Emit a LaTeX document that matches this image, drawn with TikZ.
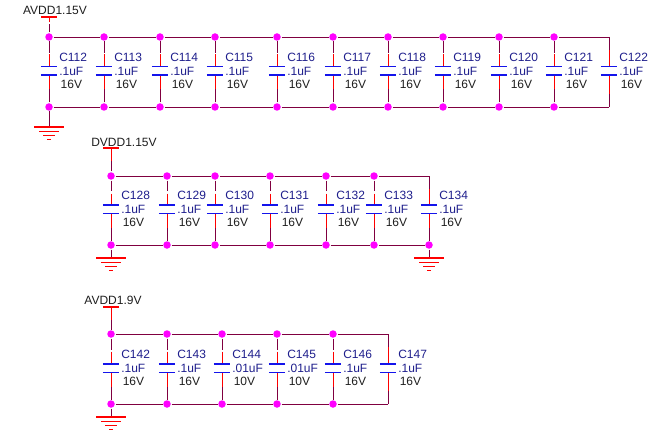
\documentclass[tikz,border=0pt]{standalone}
\usepackage{fontspec}
\setmainfont{Liberation Sans}
\usepackage{tikz}
\usetikzlibrary{calc}
\usetikzlibrary{backgrounds}
\definecolor{wine}{RGB}{128,0,64}
\definecolor{dotcol}{RGB}{255,0,255}
\definecolor{redcol}{RGB}{255,0,0}
\definecolor{platecol}{RGB}{20,20,235}
\definecolor{capcol}{RGB}{30,30,140}
\definecolor{netcol}{RGB}{30,30,30}

\begin{document}
\begin{tikzpicture}
	[x=1pt,y=-1pt,line width=1.5pt,
	wire/.style = {
		draw=wine
	},
	capwire/.style = {
		postaction={draw=wine, shorten >=14pt},
		postaction={draw=redcol, shorten <=13pt}
	},
	railwire/.style = {
		postaction={draw=wine, shorten >=6pt},
		postaction={draw=redcol, shorten <=10pt}
	},
	dot/.style = {
		fill=dotcol, circle, inner sep=0pt, minimum size=7.5pt
	},
	capbox/.style = {
		inner sep=0pt, minimum width=15pt, minimum height=7pt,
		append after command = {
			(\tikzlastnode.north west) edge[draw=platecol] (\tikzlastnode.north east)
			(\tikzlastnode.south west) edge[draw=platecol] (\tikzlastnode.south east)
		}
	},
	capval/.style = {
		anchor=west, inner sep=0pt, align=left, text=capcol,
		font=\fontsize{12}{13.5}\selectfont
	},
	netname/.style = {
		inner sep=0pt, text=netcol,
		font=\fontsize{12}{13.5}\selectfont
	},
	railbar/.style = {
		inner sep=0pt, minimum width=14pt, minimum height=0pt,
		append after command = {
			(\tikzlastnode.west) edge[draw=redcol] (\tikzlastnode.east)
		}
	},
	gnd/.style = {
		anchor=north, inner sep=0pt, minimum width=28pt, minimum height=13pt,
		append after command = {
			[every edge/.style={draw=redcol}]
			(\tikzlastnode.north west) edge (\tikzlastnode.north east)
			($(\tikzlastnode.north)+(-10,4.5)$) edge ($(\tikzlastnode.north)+(10,4.5)$)
			($(\tikzlastnode.north)+(-6,8.5)$) edge ($(\tikzlastnode.north)+(6,8.5)$)
			($(\tikzlastnode.north)+(-2,12.5)$) edge ($(\tikzlastnode.north)+(2,12.5)$)
		}
	}]
	\useasboundingbox (0,0) rectangle (656,441);

	%Draw nodes, first row
	\node[netname] at (55,10) (avddA) {AVDD1.15V};
	\node[railbar] at (49,17) (railA) {};
	\node[gnd] at (49,127) (gndA) {};

	\node[dot] at (49,37) (t112) {};
	\node[dot] at (104,37) (t113) {};
	\node[dot] at (160,37) (t114) {};
	\node[dot] at (215,37) (t115) {};
	\node[dot] at (277,37) (t116) {};
	\node[dot] at (333,37) (t117) {};
	\node[dot] at (388,37) (t118) {};
	\node[dot] at (443,37) (t119) {};
	\node[dot] at (499,37) (t120) {};
	\node[dot] at (554,37) (t121) {};
	\coordinate (t122) at (609,37);

	\node[dot] at (49,107) (b112) {};
	\node[dot] at (104,107) (b113) {};
	\node[dot] at (160,107) (b114) {};
	\node[dot] at (215,107) (b115) {};
	\node[dot] at (277,107) (b116) {};
	\node[dot] at (333,107) (b117) {};
	\node[dot] at (388,107) (b118) {};
	\node[dot] at (443,107) (b119) {};
	\node[dot] at (499,107) (b120) {};
	\node[dot] at (554,107) (b121) {};
	\coordinate (b122) at (609,107);

	\node[capbox] at (49,71) (C112) {};
	\node[capbox] at (104,71) (C113) {};
	\node[capbox] at (160,71) (C114) {};
	\node[capbox] at (215,71) (C115) {};
	\node[capbox] at (277,71) (C116) {};
	\node[capbox] at (333,71) (C117) {};
	\node[capbox] at (388,71) (C118) {};
	\node[capbox] at (443,71) (C119) {};
	\node[capbox] at (499,71) (C120) {};
	\node[capbox] at (554,71) (C121) {};
	\node[capbox] at (609,71) (C122) {};

	\node[capval] at (58.5,71) (v112) {C112\\.1uF\\\textcolor{netcol}{\hspace*{1.5pt}16V}};
	\node[capval] at (113.5,71) (v113) {C113\\.1uF\\\textcolor{netcol}{\hspace*{1.5pt}16V}};
	\node[capval] at (169.5,71) (v114) {C114\\.1uF\\\textcolor{netcol}{\hspace*{1.5pt}16V}};
	\node[capval] at (224.5,71) (v115) {C115\\.1uF\\\textcolor{netcol}{\hspace*{1.5pt}16V}};
	\node[capval] at (286.5,71) (v116) {C116\\.1uF\\\textcolor{netcol}{\hspace*{1.5pt}16V}};
	\node[capval] at (342.5,71) (v117) {C117\\.1uF\\\textcolor{netcol}{\hspace*{1.5pt}16V}};
	\node[capval] at (397.5,71) (v118) {C118\\.1uF\\\textcolor{netcol}{\hspace*{1.5pt}16V}};
	\node[capval] at (452.5,71) (v119) {C119\\.1uF\\\textcolor{netcol}{\hspace*{1.5pt}16V}};
	\node[capval] at (508.5,71) (v120) {C120\\.1uF\\\textcolor{netcol}{\hspace*{1.5pt}16V}};
	\node[capval] at (563.5,71) (v121) {C121\\.1uF\\\textcolor{netcol}{\hspace*{1.5pt}16V}};
	\node[capval] at (618.5,71) (v122) {C122\\.1uF\\\textcolor{netcol}{\hspace*{1.5pt}16V}};

	%Draw nodes, second row
	\node[netname] at (124,142) (dvdd) {DVDD1.15V};
	\node[railbar] at (111,148) (railB) {};
	\node[gnd] at (111,258) (gndB) {};
	\node[gnd] at (429,258) (gndC) {};

	\node[dot] at (111,176) (t128) {};
	\node[dot] at (167,176) (t129) {};
	\node[dot] at (215,176) (t130) {};
	\node[dot] at (270,176) (t131) {};
	\node[dot] at (326,176) (t132) {};
	\node[dot] at (374,176) (t133) {};
	\coordinate (t134) at (429,176);

	\node[dot] at (111,245) (b128) {};
	\node[dot] at (167,245) (b129) {};
	\node[dot] at (215,245) (b130) {};
	\node[dot] at (270,245) (b131) {};
	\node[dot] at (326,245) (b132) {};
	\node[dot] at (374,245) (b133) {};
	\node[dot] at (429,245) (b134) {};

	\node[capbox] at (111,209) (C128) {};
	\node[capbox] at (167,209) (C129) {};
	\node[capbox] at (215,209) (C130) {};
	\node[capbox] at (270,209) (C131) {};
	\node[capbox] at (326,209) (C132) {};
	\node[capbox] at (374,209) (C133) {};
	\node[capbox] at (429,209) (C134) {};

	\node[capval] at (120.5,209) (v128) {C128\\.1uF\\\textcolor{netcol}{\hspace*{1.5pt}16V}};
	\node[capval] at (176.5,209) (v129) {C129\\.1uF\\\textcolor{netcol}{\hspace*{1.5pt}16V}};
	\node[capval] at (224.5,209) (v130) {C130\\.1uF\\\textcolor{netcol}{\hspace*{1.5pt}16V}};
	\node[capval] at (279.5,209) (v131) {C131\\.1uF\\\textcolor{netcol}{\hspace*{1.5pt}16V}};
	\node[capval] at (335.5,209) (v132) {C132\\.1uF\\\textcolor{netcol}{\hspace*{1.5pt}16V}};
	\node[capval] at (383.5,209) (v133) {C133\\.1uF\\\textcolor{netcol}{\hspace*{1.5pt}16V}};
	\node[capval] at (438.5,209) (v134) {C134\\.1uF\\\textcolor{netcol}{\hspace*{1.5pt}16V}};

	%Draw nodes, third row
	\node[netname] at (113,300) (avddB) {AVDD1.9V};
	\node[railbar] at (111,307) (railD) {};
	\node[gnd] at (111,417) (gndD) {};

	\node[dot] at (111,334) (t142) {};
	\node[dot] at (167,334) (t143) {};
	\node[dot] at (222,334) (t144) {};
	\node[dot] at (277,334) (t145) {};
	\node[dot] at (333,334) (t146) {};
	\coordinate (t147) at (388,334);

	\node[dot] at (111,404) (b142) {};
	\node[dot] at (167,404) (b143) {};
	\node[dot] at (222,404) (b144) {};
	\node[dot] at (277,404) (b145) {};
	\node[dot] at (333,404) (b146) {};
	\coordinate (b147) at (388,404);

	\node[capbox] at (111,368) (C142) {};
	\node[capbox] at (167,368) (C143) {};
	\node[capbox] at (222,368) (C144) {};
	\node[capbox] at (277,368) (C145) {};
	\node[capbox] at (333,368) (C146) {};
	\node[capbox] at (388,368) (C147) {};

	\node[capval] at (120.5,368) (v142) {C142\\.1uF\\\textcolor{netcol}{\hspace*{1.5pt}16V}};
	\node[capval] at (176.5,368) (v143) {C143\\.1uF\\\textcolor{netcol}{\hspace*{1.5pt}16V}};
	\node[capval] at (231.5,368) (v144) {C144\\.01uF\\\textcolor{netcol}{\hspace*{1.5pt}10V}};
	\node[capval] at (286.5,368) (v145) {C145\\.01uF\\\textcolor{netcol}{\hspace*{1.5pt}10V}};
	\node[capval] at (342.5,368) (v146) {C146\\.1uF\\\textcolor{netcol}{\hspace*{1.5pt}16V}};
	\node[capval] at (397.5,368) (v147) {C147\\.1uF\\\textcolor{netcol}{\hspace*{1.5pt}16V}};

	\begin{scope}[on background layer]
	%Draw wires, first row
	\path[railwire] (t112) -- (railA);
	\draw[wire] (b112) -- (gndA.north);
	\draw[wire] (t112) -- (t113) -- (t114) -- (t115) -- (t116) -- (t117) -- (t118) -- (t119) -- (t120) -- (t121) -- (t122);
	\draw[wire] (b112) -- (b113) -- (b114) -- (b115) -- (b116) -- (b117) -- (b118) -- (b119) -- (b120) -- (b121) -- (b122);
	\path[capwire] (t112) -- (C112.north); \path[capwire] (b112) -- (C112.south);
	\path[capwire] (t113) -- (C113.north); \path[capwire] (b113) -- (C113.south);
	\path[capwire] (t114) -- (C114.north); \path[capwire] (b114) -- (C114.south);
	\path[capwire] (t115) -- (C115.north); \path[capwire] (b115) -- (C115.south);
	\path[capwire] (t116) -- (C116.north); \path[capwire] (b116) -- (C116.south);
	\path[capwire] (t117) -- (C117.north); \path[capwire] (b117) -- (C117.south);
	\path[capwire] (t118) -- (C118.north); \path[capwire] (b118) -- (C118.south);
	\path[capwire] (t119) -- (C119.north); \path[capwire] (b119) -- (C119.south);
	\path[capwire] (t120) -- (C120.north); \path[capwire] (b120) -- (C120.south);
	\path[capwire] (t121) -- (C121.north); \path[capwire] (b121) -- (C121.south);
	\path[capwire] (t122) -- (C122.north); \path[capwire] (b122) -- (C122.south);

	%Draw wires, second row
	\path[railwire] (t128) -- (railB);
	\draw[wire] (b128) -- (gndB.north);
	\draw[wire] (b134) -- (gndC.north);
	\draw[wire] (t128) -- (t129) -- (t130) -- (t131) -- (t132) -- (t133) -- (t134);
	\draw[wire] (b128) -- (b129) -- (b130) -- (b131) -- (b132) -- (b133) -- (b134);
	\path[capwire] (t128) -- (C128.north); \path[capwire] (b128) -- (C128.south);
	\path[capwire] (t129) -- (C129.north); \path[capwire] (b129) -- (C129.south);
	\path[capwire] (t130) -- (C130.north); \path[capwire] (b130) -- (C130.south);
	\path[capwire] (t131) -- (C131.north); \path[capwire] (b131) -- (C131.south);
	\path[capwire] (t132) -- (C132.north); \path[capwire] (b132) -- (C132.south);
	\path[capwire] (t133) -- (C133.north); \path[capwire] (b133) -- (C133.south);
	\path[capwire] (t134) -- (C134.north); \path[capwire] (b134) -- (C134.south);

	%Draw wires, third row
	\path[railwire] (t142) -- (railD);
	\draw[wire] (b142) -- (gndD.north);
	\draw[wire] (t142) -- (t143) -- (t144) -- (t145) -- (t146) -- (t147);
	\draw[wire] (b142) -- (b143) -- (b144) -- (b145) -- (b146) -- (b147);
	\path[capwire] (t142) -- (C142.north); \path[capwire] (b142) -- (C142.south);
	\path[capwire] (t143) -- (C143.north); \path[capwire] (b143) -- (C143.south);
	\path[capwire] (t144) -- (C144.north); \path[capwire] (b144) -- (C144.south);
	\path[capwire] (t145) -- (C145.north); \path[capwire] (b145) -- (C145.south);
	\path[capwire] (t146) -- (C146.north); \path[capwire] (b146) -- (C146.south);
	\path[capwire] (t147) -- (C147.north); \path[capwire] (b147) -- (C147.south);
	\end{scope}

\end{tikzpicture}
\end{document}
